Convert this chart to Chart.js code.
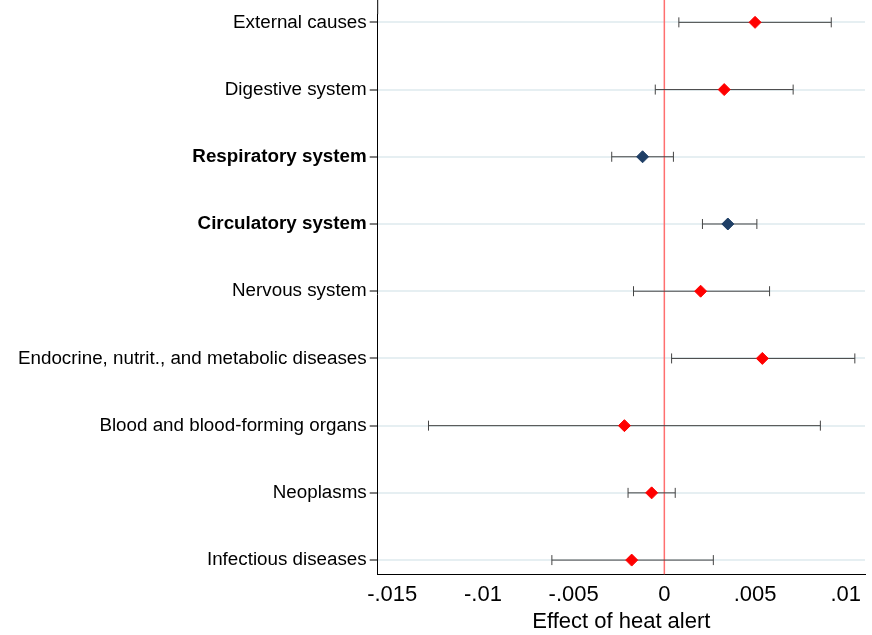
<!DOCTYPE html>
<html>
<head>
<meta charset="utf-8">
<script src="https://cdn.jsdelivr.net/npm/chart.js@4"></script>
<style>
  html, body { margin: 0; padding: 0; background: #fff; }
  #wrap { width: 872px; height: 635px; }
</style>
</head>
<body>
<div id="wrap"><canvas id="chart"></canvas></div>
<script>
// rows listed from bottom to top
const categories = [
    'Infectious diseases',
    'Neoplasms',
    'Blood and blood-forming organs',
    'Endocrine, nutrit., and metabolic diseases',
    'Nervous system',
    'Circulatory system',
    'Respiratory system',
    'Digestive system',
    'External causes'
];
const estimates = [-0.0018, -0.0007, -0.0022, 0.0054, 0.0020, 0.0035, -0.0012, 0.0033, 0.0050];
const lowerCI = [-0.0062, -0.0020, -0.0130, 0.0004, -0.0017, 0.0021, -0.0029, -0.0005, 0.0008];
const upperCI = [0.0027, 0.0006, 0.0086, 0.0105, 0.0058, 0.0051, 0.0005, 0.0071, 0.0092];
const highlighted = ['Respiratory system', 'Circulatory system'];
const xTicks = [-0.015, -0.01, -0.005, 0, 0.005, 0.01];
const xTickLabels = ['-.015', '-.01', '-.005', '0', '.005', '.01'];

const points = estimates.map((v, i) => ({ x: v, y: i + 1 }));
const pointColors = categories.map((c) => highlighted.includes(c) ? '#1f3f66' : '#ff0000');

// whiskers for the confidence intervals
const errorBars = {
    id: 'errorBars',
    beforeDatasetsDraw(chart) {
        const { ctx, scales: { x, y } } = chart;
        ctx.save();
        // red reference line at zero
        ctx.strokeStyle = '#ff6f6f';
        ctx.lineWidth = 1.5;
        ctx.beginPath();
        ctx.moveTo(x.getPixelForValue(0), 0);
        ctx.lineTo(x.getPixelForValue(0), chart.chartArea.bottom);
        ctx.stroke();
        ctx.strokeStyle = '#444';
        ctx.lineWidth = 1;
        lowerCI.forEach((lo, i) => {
            const py = y.getPixelForValue(i + 1);
            const x1 = x.getPixelForValue(lo);
            const x2 = x.getPixelForValue(upperCI[i]);
            ctx.beginPath();
            ctx.moveTo(x1, py); ctx.lineTo(x2, py);
            ctx.moveTo(x1, py - 5); ctx.lineTo(x1, py + 5);
            ctx.moveTo(x2, py - 5); ctx.lineTo(x2, py + 5);
            ctx.stroke();
        });
        // left axis line runs up to the top edge
        ctx.strokeStyle = '#000';
        ctx.beginPath();
        ctx.moveTo(chart.chartArea.left, 0);
        ctx.lineTo(chart.chartArea.left, chart.chartArea.top);
        ctx.stroke();
        ctx.restore();
    }
};

new Chart(document.getElementById('chart'), {
    type: 'scatter',
    data: {
        datasets: [{
            data: points,
            pointStyle: 'rectRot',
            pointRadius: 6,
            pointBackgroundColor: pointColors,
            pointBorderColor: pointColors
        }]
    },
    options: {
        responsive: true,
        maintainAspectRatio: false,
        animation: false,
        layout: { padding: { top: 0, right: 2, left: 15 } },
        plugins: { legend: { display: false }, tooltip: { enabled: false } },
        scales: {
            x: {
                min: -0.0158,
                max: 0.01106,
                afterBuildTicks: (axis) => { axis.ticks = xTicks.map((v) => ({ value: v })); },
                ticks: {
                    color: '#000',
                    font: { family: 'Arial, Liberation Sans', size: 22 },
                    maxRotation: 0,
                    padding: 0,
                    callback: (v) => xTickLabels[xTicks.findIndex((t) => Math.abs(t - v) < 1e-9)]
                },
                grid: { display: false, drawTicks: true },
                border: { color: '#000' },
                title: {
                    display: true,
                    text: 'Effect of heat alert',
                    color: '#000',
                    font: { family: 'Arial, Liberation Sans', size: 22 },
                    padding: { top: 0, bottom: 0 }
                }
            },
            y: {
                min: 0.79,
                max: 9.12,
                afterBuildTicks: (axis) => { axis.ticks = categories.map((c, i) => ({ value: i + 1 })); },
                ticks: {
                    color: '#000',
                    font: (ctx) => ({
                        family: 'Arial, Liberation Sans',
                        size: 18.8,
                        weight: highlighted.includes(categories[ctx.index]) ? 'bold' : 'normal'
                    }),
                    callback: (v) => categories[Math.round(v) - 1]
                },
                grid: { color: '#e6eff2', lineWidth: 2, tickColor: '#000', tickLength: 8, tickWidth: 1 },
                border: { color: '#000' }
            }
        }
    },
    plugins: [errorBars]
});
</script>
</body>
</html>
